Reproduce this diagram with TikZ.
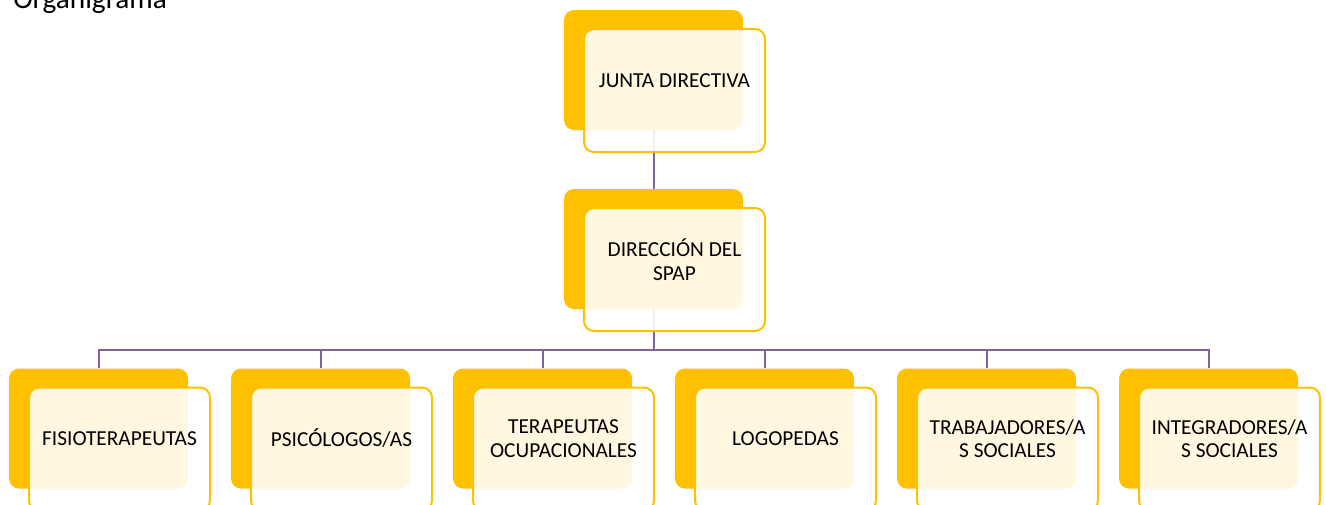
\documentclass[tikz,border=0pt]{standalone}
\usepackage{fontspec}
\setmainfont{Carlito}
\definecolor{orgyellow}{HTML}{FFC000}
\definecolor{orgpurple}{HTML}{8064A2}
\begin{document}
\begin{tikzpicture}[x=0.75pt,y=-0.75pt,
  back/.style={fill=orgyellow,rounded corners=7.5pt,minimum width=134.25pt,minimum height=90pt,inner sep=0pt},
  front/.style={draw=orgyellow,line width=1.5pt,fill=white,fill opacity=0.88,rounded corners=7.5pt,minimum width=135.75pt,minimum height=92.25pt,inner sep=0pt},
  boxtext/.style={align=center,font=\fontsize{16}{17.5}\selectfont,inner sep=0pt},
  conn/.style={draw=orgpurple,line width=1.5pt}]
  \useasboundingbox (0,0) rectangle (1326,504);
  \clip (0,0) rectangle (1326,504);
  \node[anchor=base west,inner sep=0pt,font=\fontsize{22}{26}\selectfont] (title) at (13,8.5) {Organigrama};
  % back boxes
  \node[back] (j) at (653.5,70) {};
  \node[back] (d) at (653.5,249) {};
  \foreach \i/\x in {1/98.5,2/320.5,3/542.5,4/764.5,5/986.5,6/1208.5}
    \node[back] (b\i) at (\x,428.5) {};
  % connectors
  \draw[conn] (j.south) -- (d.north);
  \foreach \i in {1,...,6}
    \draw[conn] (d.south) -- ++(0,41) -| (b\i.north);
  % front boxes
  \node[front] (jf) at (674.5,90.5) {};
  \node[front] (df) at (674.5,269.5) {};
  \foreach \i/\x in {1/119.5,2/341.5,3/563.5,4/785.5,5/1007.5,6/1229.5}
    \node[front] (f\i) at (\x,449) {};
  % texts
  \node[boxtext] (jt) at (674.5,80.5) {JUNTA DIRECTIVA};
  \node[boxtext] (dt) at (674.5,259.5) {DIRECCIÓN DEL\\SPAP};
  \foreach \i/\x/\txt in {1/119.5/{FISIOTERAPEUTAS},2/341.5/{PSICÓLOGOS/AS},
      3/563.5/{TERAPEUTAS\\OCUPACIONALES},4/785.5/{LOGOPEDAS},
      5/1007.5/{TRABAJADORES/A\\S SOCIALES},6/1229.5/{INTEGRADORES/A\\S SOCIALES}}
    \node[boxtext] (t\i) at (\x,438.5) {\txt};
\end{tikzpicture}
\end{document}
